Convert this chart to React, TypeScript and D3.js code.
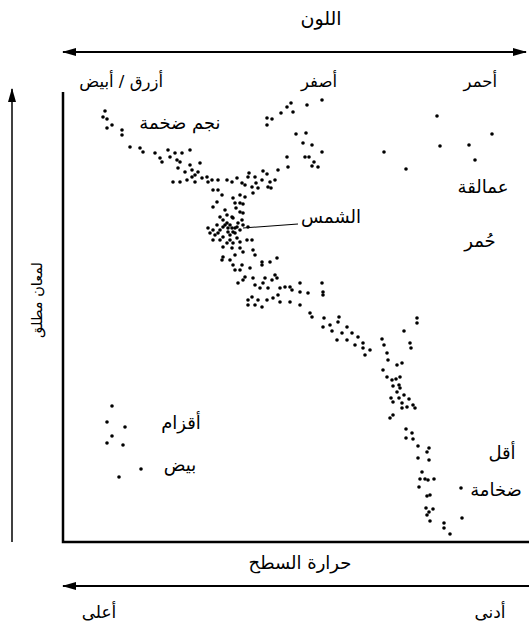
import * as d3 from "d3";

// colour index (0 = blue/hot, 460 = red/cool) vs absolute luminosity (0..450)
const supergiants: [number, number][] = [
  [42, 431], [40, 425], [44, 423], [44, 414], [49, 417], [59, 412], [59, 407],
];

const upperMainSequence: [number, number][] = [
  [67, 395], [77, 394], [80, 390], [92, 389], [97, 384], [99, 380], [105, 392], [107, 385],
  [112, 389], [114, 382], [119, 389], [117, 380], [127, 392], [115, 374], [122, 370], [127, 377],
  [129, 372], [132, 367], [135, 370], [137, 379], [110, 360], [117, 360], [124, 362], [129, 365],
  [132, 360], [139, 364], [144, 365], [145, 360], [149, 362], [155, 362], [164, 362], [169, 360],
  [174, 364], [150, 352], [155, 352], [159, 347], [154, 340], [150, 335], [170, 344], [172, 339],
  [179, 359], [186, 369], [185, 365], [182, 357], [192, 365], [193, 359], [195, 354], [189, 355],
  [200, 371], [204, 368], [199, 362], [207, 360], [212, 362], [205, 355], [208, 354], [190, 349],
  [177, 347], [182, 345], [177, 339], [180, 338],
];

const sunCluster: [number, number][] = [
  [177, 330], [180, 329], [179, 322], [164, 327], [169, 325], [157, 325], [160, 322], [170, 324],
  [154, 317], [150, 312], [147, 309], [152, 307], [150, 302], [157, 312], [160, 315], [164, 319],
  [165, 310], [169, 314], [170, 310], [174, 315], [177, 312], [175, 319], [180, 317], [185, 315],
  [160, 305], [167, 302], [170, 299], [164, 299], [174, 304], [177, 300], [184, 302], [189, 302],
  [157, 302], [155, 309], [167, 307], [172, 309], [162, 317], [167, 317], [172, 314], [165, 314],
  [145, 314], [162, 332], [173, 334],
];

const lowerMainSequence: [number, number][] = [
  [160, 295], [169, 294], [177, 294], [180, 290], [172, 287], [190, 292], [192, 287], [160, 285],
  [159, 282], [167, 282], [170, 277], [172, 272], [177, 272], [179, 277], [187, 274], [199, 280],
  [199, 277], [207, 280], [214, 284], [182, 265], [180, 262], [175, 259], [190, 264], [192, 257],
  [202, 264], [200, 259], [209, 262], [212, 267], [214, 264], [197, 254], [205, 254], [217, 254],
  [222, 255], [227, 255], [229, 252], [237, 259], [237, 250], [245, 249], [185, 242], [189, 245],
  [195, 242], [192, 237], [199, 235], [204, 242], [210, 244], [215, 247], [217, 240], [227, 240],
  [237, 237], [185, 237], [259, 259], [260, 250], [260, 247], [247, 229], [249, 225], [261, 224],
  [260, 215], [267, 217], [276, 225], [275, 220], [269, 211], [279, 209], [284, 215], [289, 209],
  [274, 202], [284, 202], [292, 197], [295, 205], [300, 199], [300, 194], [307, 192], [302, 187],
  [319, 203], [321, 197], [324, 189], [325, 182], [334, 177], [339, 179], [320, 172], [324, 165],
  [329, 162], [333, 163], [337, 165], [330, 156], [336, 157], [337, 154], [334, 150], [341, 147],
  [328, 144], [330, 140], [336, 144], [339, 139], [346, 143], [350, 137], [344, 135], [339, 134],
  [352, 134], [330, 127], [327, 124], [343, 113], [349, 109], [343, 104], [350, 103], [355, 96],
  [366, 94], [364, 90], [355, 84], [366, 82], [359, 70], [357, 63], [362, 63], [365, 62],
  [371, 63], [356, 55], [364, 46], [367, 47], [363, 34], [366, 30], [370, 33], [364, 27],
  [367, 21], [381, 19], [381, 14], [387, 8], [398, 54], [399, 24],
];

const giantBranch: [number, number][] = [
  [204, 424], [209, 423], [204, 417], [218, 429], [224, 435], [228, 439], [230, 430], [244, 437],
  [259, 442], [233, 408], [243, 409], [240, 399], [249, 397], [259, 390], [242, 385], [246, 385],
  [251, 380], [249, 376], [255, 375], [224, 385], [225, 375], [215, 372],
  [354, 224], [354, 219], [341, 211], [347, 199], [348, 194],
];

const redGiants: [number, number][] = [
  [374, 426], [429, 408], [377, 396], [406, 397], [412, 382], [321, 390], [343, 373],
];

const whiteDwarfs: [number, number][] = [
  [49, 136], [44, 120], [62, 115], [49, 106], [44, 99], [60, 97], [78, 73], [56, 65],
];

const colourLabels = [
  { text: "أزرق / أبيض", at: 100 },
  { text: "أصفر", at: 274 },
  { text: "أحمر", at: 434 },
];

const allStars = [
  ...supergiants, ...upperMainSequence, ...sunCluster, ...lowerMainSequence,
  ...giantBranch, ...redGiants, ...whiteDwarfs,
];

const W = 529;
const H = 628;
const FONT = "DejaVu Sans, sans-serif";

export default function App() {
  const x = d3.scaleLinear().domain([0, 460]).range([63, 523]);
  const y = d3.scaleLinear().domain([0, 450]).range([542, 92]);

  const [x0] = x.range();
  const [yBottom, yTop] = y.range();

  return (
    <svg width={W} height={H} style={{ position: "absolute", left: 0, top: 0, background: "#fff" }}>
      <defs>
        <marker id="head" viewBox="0 0 14 8" refX="13" refY="4" markerWidth="14" markerHeight="8"
          markerUnits="userSpaceOnUse" orient="auto-start-reverse">
          <path d="M0,0 L14,4 L0,8 Z" fill="#000" />
        </marker>
      </defs>

      {/* title and colour arrow */}
      <text x={321} y={25} textAnchor="middle" fontFamily={FONT} fontSize={19}>اللون</text>
      <line x1={x0} x2={526} y1={52} y2={52} stroke="#000" strokeWidth={2}
        markerStart="url(#head)" markerEnd="url(#head)" />
      {colourLabels.map((d) => (
        <text key={d.text} x={x(d.at)} y={87} textAnchor="end" fontFamily={FONT} fontSize={16.5}>
          {d.text}
        </text>
      ))}

      {/* luminosity arrow */}
      <line x1={12} x2={12} y1={yBottom} y2={89} stroke="#000" strokeWidth={1.5}
        markerEnd="url(#head)" />
      <text transform={`translate(42, 300) rotate(-90)`} textAnchor="middle"
        fontFamily={FONT} fontSize={14.5}>لمعان مطلق</text>

      {/* frame */}
      <path d={`M${x0},${yTop} V${yBottom} H${W}`} fill="none" stroke="#000" strokeWidth={2.5} />

      {/* temperature arrow */}
      <text x={300} y={569} textAnchor="middle" fontFamily={FONT} fontSize={18}>حرارة السطح</text>
      <line x1={W} x2={x0} y1={586} y2={586} stroke="#000" strokeWidth={2} markerEnd="url(#head)" />
      <text x={99} y={618} textAnchor="middle" fontFamily={FONT} fontSize={17}>أعلى</text>
      <text x={490} y={618} textAnchor="middle" fontFamily={FONT} fontSize={17}>أدنى</text>

      {/* stars */}
      <g>
        {allStars.map((d, i) => (
          <circle key={i} cx={x(d[0])} cy={y(d[1])} r={1.8} fill="#000" />
        ))}
      </g>

      {/* sun pointer */}
      <line x1={x(180)} y1={y(314)} x2={x(235)} y2={y(318)} stroke="#000" strokeWidth={1.1} />

      {/* group labels */}
      <g fontFamily={FONT} fontSize={18} textAnchor="middle">
        <text x={180} y={129}>نجم ضخمة</text>
        <text x={331} y={223}>الشمس</text>
        <text x={483} y={193}>عمالقة</text>
        <text x={480} y={247}>حُمر</text>
        <text x={181} y={429}>أقزام</text>
        <text x={180} y={471}>بيض</text>
        <text x={502} y={459}>أقل</text>
        <text x={496} y={496}>ضخامة</text>
      </g>
    </svg>
  );
}
